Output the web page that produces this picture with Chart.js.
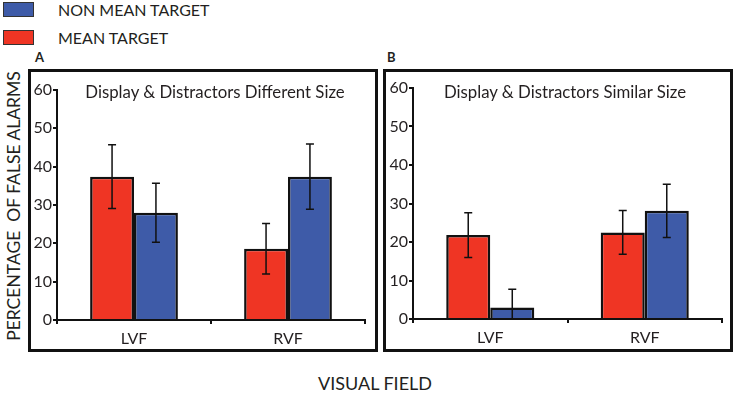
<!DOCTYPE html>
<html>
<head>
<meta charset="utf-8">
<script src="https://cdn.jsdelivr.net/npm/chart.js@4"></script>
<style>
  body { margin: 0; width: 744px; height: 395px; background: #fff; position: relative; overflow: hidden;
         font-family: Lato, 'Open Sans', sans-serif; color: #231f20; }
  .swatch { position: absolute; left: 3px; width: 29px; height: 13px; border: 1px solid #333; }
  .legtext { position: absolute; left: 58px; font-size: 16px; line-height: 16px; white-space: nowrap; }
  .letter { position: absolute; font-size: 13px; font-weight: bold; line-height: 13px; }
  .panel { position: absolute; top: 69px; width: 350px; height: 283px; border: 3px solid #111; box-sizing: border-box; }
  .box { position: absolute; }
  .ptitle { position: absolute; font-size: 16.8px; line-height: 17px; white-space: nowrap; text-align: center; }
  .ytitle { position: absolute; left: 13px; top: 206px; font-size: 17.5px; white-space: pre;
            transform: translate(-50%, -50%) rotate(-90deg); }
  .xtitle { position: absolute; left: 375px; top: 383px; font-size: 18px; white-space: nowrap;
            transform: translate(-50%, -50%); }
</style>
</head>
<body>
<div class="swatch" style="top:2px; background:#3e5ba8;"></div>
<div class="legtext" style="top:2px;">NON MEAN TARGET</div>
<div class="swatch" style="top:30px; background:#ef3524;"></div>
<div class="legtext" style="top:30px;">MEAN TARGET</div>

<div class="letter" style="left:35px; top:51px;">A</div>
<div class="letter" style="left:387px; top:51px;">B</div>

<div class="panel" style="left:28px;"></div>
<div class="panel" style="left:383px;"></div>

<div class="box" style="left:31px; top:72px; width:344px; height:277px;"><canvas id="chartA"></canvas></div>
<div class="box" style="left:386px; top:72px; width:344px; height:277px;"><canvas id="chartB"></canvas></div>

<div class="ptitle" style="left:215px; top:83px; transform: translateX(-50%);">Display &amp; Distractors Different Size</div>
<div class="ptitle" style="left:565px; top:83px; transform: translateX(-50%);">Display &amp; Distractors Similar Size</div>

<div class="ytitle">PERCENTAGE  OF FALSE ALARMS</div>
<div class="xtitle">VISUAL FIELD</div>

<script>
const categories = ['LVF', 'RVF'];
const yTicks = [0, 10, 20, 30, 40, 50, 60];

// panel A: display & distractors different size
const meanTargetA = [37.4, 18.6];
const meanTargetErrA = [8.3, 6.6];
const nonMeanTargetA = [28.0, 37.4];
const nonMeanTargetErrA = [7.7, 8.5];

// panel B: display & distractors similar size
const meanTargetB = [21.8, 22.5];
const meanTargetErrB = [5.8, 5.7];
const nonMeanTargetB = [3.0, 28.1];
const nonMeanTargetErrB = [4.7, 6.9];

const RED = '#ef3524';
const BLUE = '#3e5ba8';
const INK = '#111';

const errorBars = {
    id: 'errorBars',
    afterDatasetsDraw(chart) {
        const { ctx, scales: { y } } = chart;
        ctx.save();
        ctx.strokeStyle = INK;
        ctx.lineWidth = 1.5;
        chart.data.datasets.forEach((ds, i) => {
            const meta = chart.getDatasetMeta(i);
            meta.data.forEach((bar, j) => {
                const v = ds.data[j];
                const e = ds.errors[j];
                const top = y.getPixelForValue(v + e);
                const low = Math.max(v - e, y.min);
                const bot = y.getPixelForValue(low);
                ctx.beginPath();
                ctx.moveTo(bar.x, top);
                ctx.lineTo(bar.x, bot);
                ctx.moveTo(bar.x - 4, top);
                ctx.lineTo(bar.x + 4, top);
                if (v - e > y.min) {
                    ctx.moveTo(bar.x - 4, bot);
                    ctx.lineTo(bar.x + 4, bot);
                }
                ctx.stroke();
            });
        });
        ctx.restore();
    }
};

function makeChart(id, red, redErr, blue, blueErr, box) {
    const tickFont = { family: 'Lato', size: 16 };
    return new Chart(document.getElementById(id), {
        type: 'bar',
        data: {
            labels: categories,
            datasets: [{
                label: 'MEAN TARGET',
                data: red,
                errors: redErr,
                backgroundColor: RED,
                borderColor: INK,
                borderWidth: 2.5
            }, {
                label: 'NON MEAN TARGET',
                data: blue,
                errors: blueErr,
                backgroundColor: BLUE,
                borderColor: INK,
                borderWidth: 2.5
            }]
        },
        options: {
            responsive: true,
            maintainAspectRatio: false,
            animation: false,
            categoryPercentage: 0.57,
            barPercentage: 1,
            layout: { padding: { top: box.top, right: box.right, bottom: 0, left: 0 } },
            plugins: { legend: { display: false }, tooltip: { enabled: false } },
            scales: {
                x: {
                    grid: { drawOnChartArea: false, tickLength: 4, color: INK, lineWidth: 2 },
                    border: { color: INK, width: 2 },
                    ticks: { font: tickFont, color: '#231f20', padding: 5 },
                    afterFit(scale) { scale.height = box.xh; }
                },
                y: {
                    min: 0,
                    max: 60,
                    afterBuildTicks(scale) { scale.ticks = yTicks.map(v => ({ value: v })); },
                    grid: { drawOnChartArea: false, tickLength: 4, color: INK, lineWidth: 2 },
                    border: { color: INK, width: 2 },
                    ticks: { font: tickFont, color: '#231f20', padding: 1 },
                    afterFit(scale) { scale.width = box.yw; }
                }
            }
        },
        plugins: [errorBars]
    });
}

makeChart('chartA', meanTargetA, meanTargetErrA, nonMeanTargetA, nonMeanTargetErrA,
    { top: 18, right: 10, xh: 29, yw: 26 });
makeChart('chartB', meanTargetB, meanTargetErrB, nonMeanTargetB, nonMeanTargetErrB,
    { top: 16, right: 8, xh: 30, yw: 27 });
</script>
</body>
</html>
